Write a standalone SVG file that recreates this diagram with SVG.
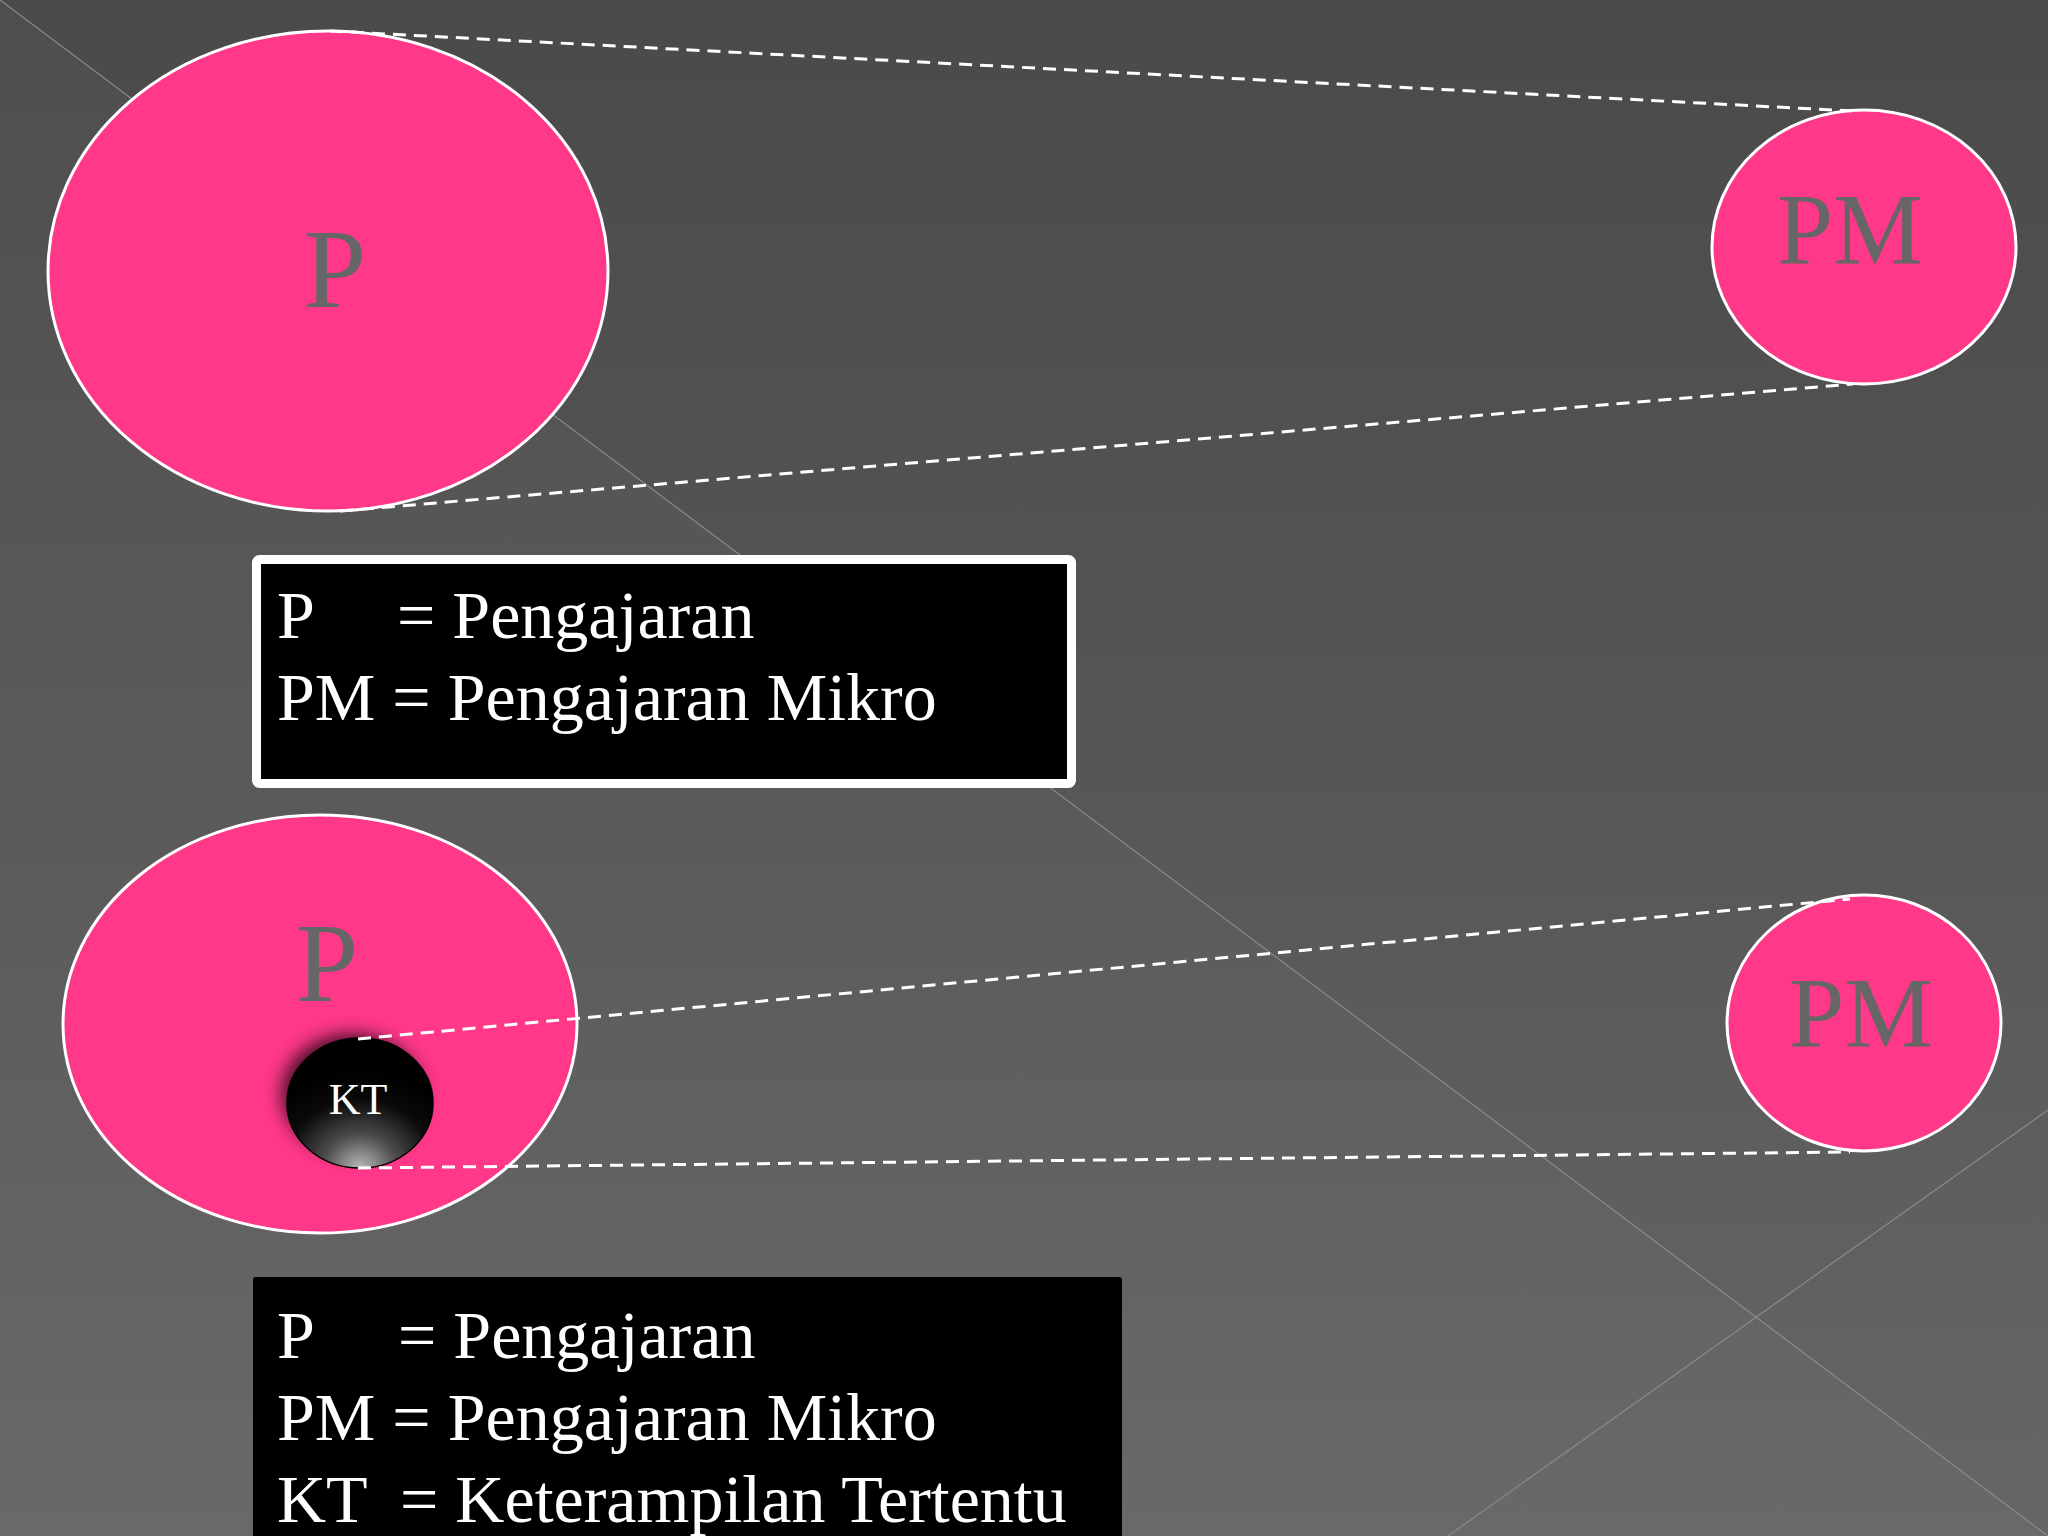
<svg xmlns="http://www.w3.org/2000/svg" width="2048" height="1536" viewBox="0 0 2048 1536">
<defs>
<linearGradient id="bg" x1="0" y1="0" x2="0" y2="1">
<stop offset="0" stop-color="#4a4a4a"/>
<stop offset="0.5" stop-color="#565656"/>
<stop offset="1" stop-color="#666666"/>
</linearGradient>
<radialGradient id="ktg" cx="0.5" cy="1" r="0.75" fx="0.5" fy="1">
<stop offset="0" stop-color="#b8b8b8"/>
<stop offset="0.35" stop-color="#4a4a4a"/>
<stop offset="0.7" stop-color="#0a0a0a"/>
<stop offset="1" stop-color="#000000"/>
</radialGradient>
<filter id="blur" x="-50%" y="-50%" width="200%" height="200%">
<feGaussianBlur stdDeviation="9"/>
</filter>
<style>
.bubble{fill:#ff388a;stroke:#ffffff;stroke-width:3}
.lbl{font-family:"Liberation Serif","Times New Roman",serif;fill:#666666;text-anchor:middle}
.leg{font-family:"Liberation Serif","Times New Roman",serif;fill:#ffffff;font-size:68px}
.dash{stroke:#ffffff;stroke-width:3;stroke-dasharray:13 8;fill:none}
.diag{stroke:#8a8a8a;stroke-width:1.2;fill:none}
</style>
</defs>
<g id="background">
<rect x="0" y="0" width="2048" height="1536" fill="url(#bg)"/>
<polygon points="0,0 2048,1536 0,1536" fill="#ffffff" opacity="0.025"/>
<line class="diag" x1="0" y1="0" x2="2048" y2="1536"/>
<line class="diag" x1="1448" y1="1536" x2="2048" y2="1110"/>
</g>
<g id="node-P1">
<ellipse class="bubble" cx="328" cy="271" rx="280" ry="240"/>
<text class="lbl" x="335" y="307" font-size="113">P</text>
</g>
<g id="node-PM1">
<ellipse class="bubble" cx="1864" cy="247" rx="152" ry="137"/>
<text class="lbl" x="1850" y="264" font-size="101">PM</text>
</g>
<g id="legend-1">
<rect x="256.5" y="559.5" width="815" height="224" rx="3" fill="#000000" stroke="#ffffff" stroke-width="9"/>
<text class="leg" x="277" y="638">P</text>
<text class="leg" x="397" y="638">= Pengajaran</text>
<text class="leg" x="277" y="720">PM = Pengajaran Mikro</text>
</g>
<g id="node-P2">
<ellipse class="bubble" cx="320" cy="1024" rx="257" ry="209"/>
<text class="lbl" x="327" y="1001" font-size="113">P</text>
</g>
<g id="node-KT">
<ellipse cx="352" cy="1094" rx="70" ry="60" fill="#000000" opacity="0.75" filter="url(#blur)"/>
<ellipse cx="360" cy="1103" rx="73" ry="65" fill="url(#ktg)" stroke="#000000" stroke-width="1.5"/>
<text x="358" y="1114" font-family="'Liberation Serif','Times New Roman',serif" font-size="44" fill="#ffffff" text-anchor="middle">KT</text>
</g>
<g id="node-PM2">
<ellipse class="bubble" cx="1864" cy="1023" rx="137" ry="128"/>
<text class="lbl" x="1861" y="1046" font-size="100">PM</text>
</g>
<g id="connectors">
<line class="dash" x1="330" y1="31" x2="1852" y2="111"/>
<line class="dash" x1="340" y1="511" x2="1853" y2="384"/>
<line class="dash" x1="358" y1="1039" x2="1850" y2="899"/>
<line class="dash" x1="358" y1="1168" x2="1850" y2="1152"/>
</g>
<g id="legend-2">
<rect x="253" y="1277" width="869" height="280" rx="3" fill="#000000"/>
<text class="leg" x="277" y="1358">P</text>
<text class="leg" x="398" y="1358">= Pengajaran</text>
<text class="leg" x="277" y="1440">PM = Pengajaran Mikro</text>
<text class="leg" x="277" y="1522">KT</text>
<text class="leg" x="400" y="1522">= Keterampilan Tertentu</text>
</g>
</svg>
